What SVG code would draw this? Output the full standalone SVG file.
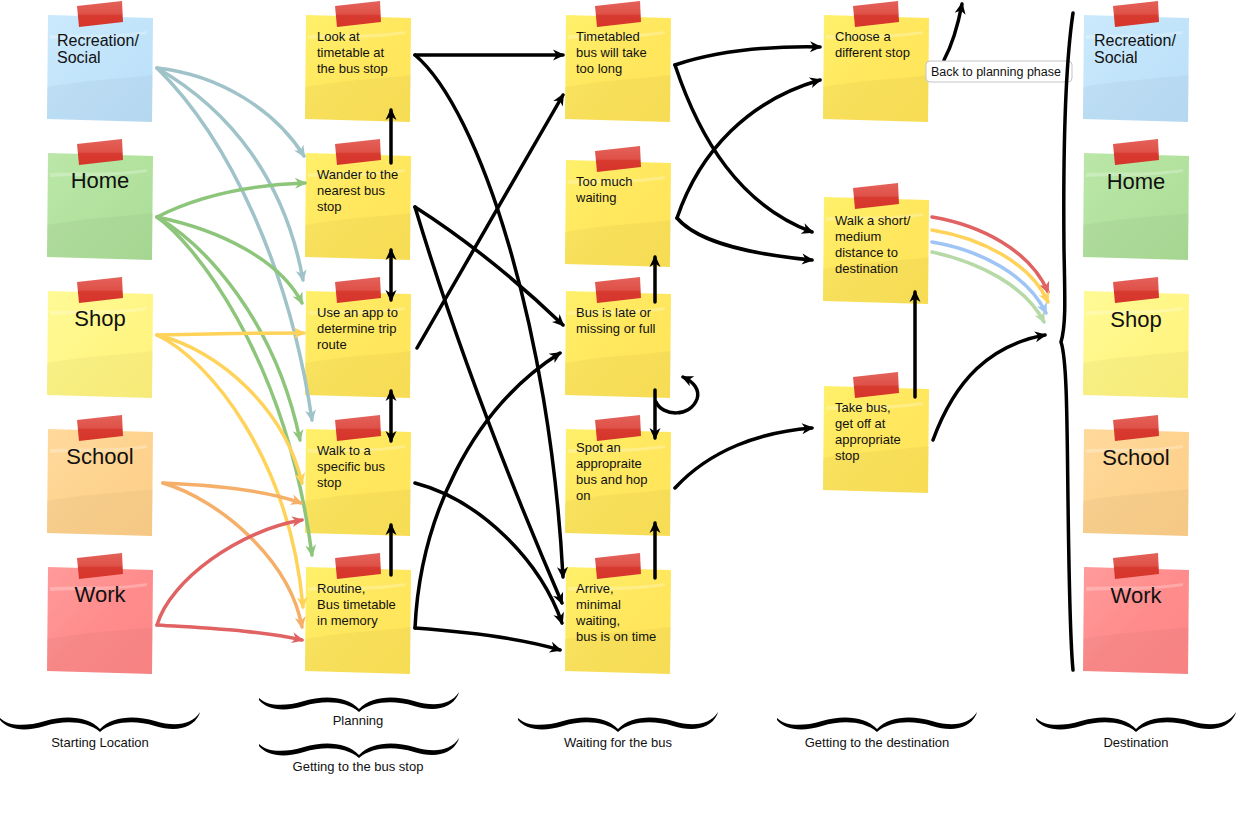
<svg xmlns="http://www.w3.org/2000/svg" width="1236" height="821" viewBox="0 0 1236 821">
<style>
.t{font-family:"Liberation Sans",Arial,sans-serif;font-size:13px;fill:#111}
.lb{font-family:"Liberation Sans",Arial,sans-serif;font-size:12.5px;fill:#111}
.big{font-family:"Liberation Sans",Arial,sans-serif;font-size:22px;fill:#111}
.mid{font-family:"Liberation Sans",Arial,sans-serif;font-size:16px;fill:#111}
.c{fill:none;stroke-width:3.5;stroke-linecap:round;stroke-linejoin:round}
.k{stroke:#000;marker-end:url(#ak)}
.kd{stroke:#000;marker-end:url(#akd);marker-start:url(#akd)}
.bl{stroke:#9fc3c9;marker-end:url(#abl)}
.gr{stroke:#8dc57b;marker-end:url(#agr)}
.ye{stroke:#ffd35a;marker-end:url(#aye)}
.or{stroke:#f6af68;marker-end:url(#aor)}
.re{stroke:#e06262;marker-end:url(#are)}
.re2{stroke:#e06262;marker-end:url(#are)}
.ye2{stroke:#ffd25a;marker-end:url(#aye)}
.bl2{stroke:#9fc5f5;marker-end:url(#abl2)}
.gr2{stroke:#b7d9a7;marker-end:url(#agr2)}
</style>
<defs>
<linearGradient id="gT" x1="0" y1="0" x2="0" y2="1">
<stop offset="0" stop-color="#e3625a"/><stop offset="0.5" stop-color="#df5148"/><stop offset="0.56" stop-color="#d83a2f"/><stop offset="1" stop-color="#d6342a"/>
</linearGradient>
<linearGradient id="gY" x1="0" y1="0" x2="1" y2="1"><stop offset="0" stop-color="#fff06a"/><stop offset="0.5" stop-color="#ffe75e"/><stop offset="1" stop-color="#ffe457"/></linearGradient>
<linearGradient id="gB" x1="0" y1="0" x2="1" y2="1"><stop offset="0" stop-color="#cbe9fc"/><stop offset="0.5" stop-color="#c1e4fa"/><stop offset="1" stop-color="#badff8"/></linearGradient>
<linearGradient id="gG" x1="0" y1="0" x2="1" y2="1"><stop offset="0" stop-color="#bbe7a8"/><stop offset="0.5" stop-color="#b2e29e"/><stop offset="1" stop-color="#abdd96"/></linearGradient>
<linearGradient id="gS" x1="0" y1="0" x2="1" y2="1"><stop offset="0" stop-color="#fffa96"/><stop offset="0.5" stop-color="#fff686"/><stop offset="1" stop-color="#fff27c"/></linearGradient>
<linearGradient id="gO" x1="0" y1="0" x2="1" y2="1"><stop offset="0" stop-color="#ffd99c"/><stop offset="0.5" stop-color="#fed38f"/><stop offset="1" stop-color="#fdcf89"/></linearGradient>
<linearGradient id="gR" x1="0" y1="0" x2="1" y2="1"><stop offset="0" stop-color="#ff9b9b"/><stop offset="0.5" stop-color="#ff8c8c"/><stop offset="1" stop-color="#ff8787"/></linearGradient>
<path id="note" d="M1,0 L106,3 L105,107 L0,104 Z"/>
<path id="shade" d="M0,72 C30,66 70,64 106,60 L105,107 L0,104 Z" fill="#000" opacity="0.03"/>
<path id="hl" d="M3,20 C30,18 60,22 100,16 L100,19 C60,25 30,22 3,24 Z" fill="#fff" opacity="0.25"/>
<polygon id="tape" points="30,-9 75,-14 76,7 32,12" fill="url(#gT)"/>
<path id="brace" d="M0,0 C8,8 25,9 45,3 C65,-3 88,-2 100,11 C112,-2 135,-3 155,3 C175,9 192,7 200,-6 L199,-3 C192,11 175,14 155,8 C135,2 113,3 100,14 C87,3 65,2 45,8 C25,14 8,12 0,2 Z" fill="#000"/>
<marker id="ak" viewBox="0 0 14 14" refX="11" refY="7" markerWidth="14" markerHeight="14" markerUnits="userSpaceOnUse" orient="auto"><path d="M1,1.5 L13,7 L1,12.5 L4.5,7 Z" fill="#000"/></marker>
<marker id="akd" viewBox="0 0 14 14" refX="11" refY="7" markerWidth="14" markerHeight="14" markerUnits="userSpaceOnUse" orient="auto-start-reverse"><path d="M1,1.5 L13,7 L1,12.5 L4.5,7 Z" fill="#000"/></marker>
<marker id="abl" viewBox="0 0 14 14" refX="11" refY="7" markerWidth="14" markerHeight="14" markerUnits="userSpaceOnUse" orient="auto"><path d="M1,1.5 L13,7 L1,12.5 L4.5,7 Z" fill="#9fc3c9"/></marker>
<marker id="agr" viewBox="0 0 14 14" refX="11" refY="7" markerWidth="14" markerHeight="14" markerUnits="userSpaceOnUse" orient="auto"><path d="M1,1.5 L13,7 L1,12.5 L4.5,7 Z" fill="#8dc57b"/></marker>
<marker id="aye" viewBox="0 0 14 14" refX="11" refY="7" markerWidth="14" markerHeight="14" markerUnits="userSpaceOnUse" orient="auto"><path d="M1,1.5 L13,7 L1,12.5 L4.5,7 Z" fill="#ffd35a"/></marker>
<marker id="aor" viewBox="0 0 14 14" refX="11" refY="7" markerWidth="14" markerHeight="14" markerUnits="userSpaceOnUse" orient="auto"><path d="M1,1.5 L13,7 L1,12.5 L4.5,7 Z" fill="#f6af68"/></marker>
<marker id="are" viewBox="0 0 14 14" refX="11" refY="7" markerWidth="14" markerHeight="14" markerUnits="userSpaceOnUse" orient="auto"><path d="M1,1.5 L13,7 L1,12.5 L4.5,7 Z" fill="#e06262"/></marker>
<marker id="abl2" viewBox="0 0 14 14" refX="11" refY="7" markerWidth="14" markerHeight="14" markerUnits="userSpaceOnUse" orient="auto"><path d="M1,1.5 L13,7 L1,12.5 L4.5,7 Z" fill="#9fc5f5"/></marker>
<marker id="agr2" viewBox="0 0 14 14" refX="11" refY="7" markerWidth="14" markerHeight="14" markerUnits="userSpaceOnUse" orient="auto"><path d="M1,1.5 L13,7 L1,12.5 L4.5,7 Z" fill="#b7d9a7"/></marker>
</defs>
<rect width="1236" height="821" fill="#fff"/>

<!-- Column 1: Starting locations -->
<g id="n-start-rec" transform="translate(47,15)"><use href="#note" fill="url(#gB)"/><use href="#shade"/><use href="#hl"/><use href="#tape"/><text class="mid" x="10" y="31">Recreation/</text><text class="mid" x="10" y="48">Social</text></g>
<g id="n-start-home" transform="translate(47,153)"><use href="#note" fill="url(#gG)"/><use href="#shade"/><use href="#hl"/><use href="#tape"/><text class="big" x="53" y="35" text-anchor="middle">Home</text></g>
<g id="n-start-shop" transform="translate(47,291)"><use href="#note" fill="url(#gS)"/><use href="#shade"/><use href="#hl"/><use href="#tape"/><text class="big" x="53" y="35" text-anchor="middle">Shop</text></g>
<g id="n-start-school" transform="translate(47,429)"><use href="#note" fill="url(#gO)"/><use href="#shade"/><use href="#hl"/><use href="#tape"/><text class="big" x="53" y="35" text-anchor="middle">School</text></g>
<g id="n-start-work" transform="translate(47,567)"><use href="#note" fill="url(#gR)"/><use href="#shade"/><use href="#hl"/><use href="#tape"/><text class="big" x="53" y="35" text-anchor="middle">Work</text></g>

<!-- Column 2 -->
<g id="n-look" transform="translate(305,15)"><use href="#note" fill="url(#gY)"/><use href="#shade"/><use href="#hl"/><use href="#tape"/><text class="t" x="12" y="26">Look at<tspan x="12" dy="16">timetable at</tspan><tspan x="12" dy="16">the bus stop</tspan></text></g>
<g id="n-wander" transform="translate(305,153)"><use href="#note" fill="url(#gY)"/><use href="#shade"/><use href="#hl"/><use href="#tape"/><text class="t" x="12" y="26">Wander to the<tspan x="12" dy="16">nearest bus</tspan><tspan x="12" dy="16">stop</tspan></text></g>
<g id="n-app" transform="translate(305,291)"><use href="#note" fill="url(#gY)"/><use href="#shade"/><use href="#hl"/><use href="#tape"/><text class="t" x="12" y="26">Use an app to<tspan x="12" dy="16">determine trip</tspan><tspan x="12" dy="16">route</tspan></text></g>
<g id="n-walkspecific" transform="translate(305,429)"><use href="#note" fill="url(#gY)"/><use href="#shade"/><use href="#hl"/><use href="#tape"/><text class="t" x="12" y="26">Walk to a<tspan x="12" dy="16">specific bus</tspan><tspan x="12" dy="16">stop</tspan></text></g>
<g id="n-routine" transform="translate(305,567)"><use href="#note" fill="url(#gY)"/><use href="#shade"/><use href="#hl"/><use href="#tape"/><text class="t" x="12" y="26">Routine,<tspan x="12" dy="16">Bus timetable</tspan><tspan x="12" dy="16">in memory</tspan></text></g>

<!-- Column 3 -->
<g id="n-toolong" transform="translate(565,15)"><use href="#note" fill="url(#gY)"/><use href="#shade"/><use href="#hl"/><use href="#tape"/><text class="t" x="11" y="26">Timetabled<tspan x="11" dy="16">bus will take</tspan><tspan x="11" dy="16">too long</tspan></text></g>
<g id="n-waiting" transform="translate(565,160)"><use href="#note" fill="url(#gY)"/><use href="#shade"/><use href="#hl"/><use href="#tape"/><text class="t" x="11" y="26">Too much<tspan x="11" dy="16">waiting</tspan></text></g>
<g id="n-late" transform="translate(565,291)"><use href="#note" fill="url(#gY)"/><use href="#shade"/><use href="#hl"/><use href="#tape"/><text class="t" x="11" y="26">Bus is late or<tspan x="11" dy="16">missing or full</tspan></text></g>
<g id="n-spot" transform="translate(565,429)"><use href="#note" fill="url(#gY)"/><use href="#shade"/><use href="#hl"/><use href="#tape"/><text class="t" x="11" y="23">Spot an<tspan x="11" dy="16">appropraite</tspan><tspan x="11" dy="16">bus and hop</tspan><tspan x="11" dy="15.5">on</tspan></text></g>
<g id="n-arrive" transform="translate(565,567)"><use href="#note" fill="url(#gY)"/><use href="#shade"/><use href="#hl"/><use href="#tape"/><text class="t" x="11" y="26">Arrive,<tspan x="11" dy="16">minimal</tspan><tspan x="11" dy="16">waiting,</tspan><tspan x="11" dy="15.5">bus is on time</tspan></text></g>

<!-- Column 4 -->
<g id="n-choose" transform="translate(823,15)"><use href="#note" fill="url(#gY)"/><use href="#shade"/><use href="#hl"/><use href="#tape"/><text class="t" x="12" y="26">Choose a<tspan x="12" dy="16">different stop</tspan></text></g>
<g id="n-walkshort" transform="translate(823,197)"><use href="#note" fill="url(#gY)"/><use href="#shade"/><use href="#hl"/><use href="#tape"/><text class="t" x="12" y="28">Walk a short/<tspan x="12" dy="16">medium</tspan><tspan x="12" dy="16">distance to</tspan><tspan x="12" dy="15.5">destination</tspan></text></g>
<g id="n-takebus" transform="translate(823,386)"><use href="#note" fill="url(#gY)"/><use href="#shade"/><use href="#hl"/><use href="#tape"/><text class="t" x="12" y="26">Take bus,<tspan x="12" dy="16">get off at</tspan><tspan x="12" dy="16">appropriate</tspan><tspan x="12" dy="15.5">stop</tspan></text></g>

<!-- Column 5: Destinations -->
<g id="n-dest-rec" transform="translate(1083,15)"><use href="#note" fill="url(#gB)"/><use href="#shade"/><use href="#hl"/><use href="#tape"/><text class="mid" x="11" y="31">Recreation/</text><text class="mid" x="11" y="48">Social</text></g>
<g id="n-dest-home" transform="translate(1083,153)"><use href="#note" fill="url(#gG)"/><use href="#shade"/><use href="#hl"/><use href="#tape"/><text class="big" x="53" y="36" text-anchor="middle">Home</text></g>
<g id="n-dest-shop" transform="translate(1083,291)"><use href="#note" fill="url(#gS)"/><use href="#shade"/><use href="#hl"/><use href="#tape"/><text class="big" x="53" y="36" text-anchor="middle">Shop</text></g>
<g id="n-dest-school" transform="translate(1083,429)"><use href="#note" fill="url(#gO)"/><use href="#shade"/><use href="#hl"/><use href="#tape"/><text class="big" x="53" y="36" text-anchor="middle">School</text></g>
<g id="n-dest-work" transform="translate(1083,567)"><use href="#note" fill="url(#gR)"/><use href="#shade"/><use href="#hl"/><use href="#tape"/><text class="big" x="53" y="36" text-anchor="middle">Work</text></g>

<!-- Connectors -->
<g id="connectors">
<!-- Recreation -->
<path class="c bl" d="M157,68 C220,75 275,110 304,156"/>
<path class="c bl" d="M157,68 C230,110 285,180 303,280"/>
<path class="c bl" d="M157,68 C230,140 290,270 312,420"/>
<!-- Home -->
<path class="c gr" d="M157,217 C200,195 250,185 305,183"/>
<path class="c gr" d="M157,217 C220,230 280,260 302,303"/>
<path class="c gr" d="M157,217 C205,245 275,320 300,440"/>
<path class="c gr" d="M157,217 C190,240 285,350 312,555"/>
<!-- Shop -->
<path class="c ye" d="M157,335 C200,334 250,333 304,333"/>
<path class="c ye" d="M157,335 C220,350 285,410 302,483"/>
<path class="c ye" d="M157,335 C210,360 290,460 303,607"/>
<!-- School -->
<path class="c or" d="M163,483 C210,485 265,490 301,503"/>
<path class="c or" d="M163,483 C220,500 290,560 302,627"/>
<!-- Work -->
<path class="c re" d="M157,625 C170,580 240,530 302,520"/>
<path class="c re" d="M157,625 C200,628 260,630 302,640"/>

<!-- Column 2 verticals -->
<path class="c k" d="M391,163 L391,110"/>
<path class="c kd" d="M391,250 L391,300"/>
<path class="c kd" d="M391,391 L391,441"/>
<path class="c k" d="M391,575 L391,525"/>

<!-- Column 2 to 3 -->
<path class="c k" d="M415,55 L563,55"/>
<path class="c k" d="M415,55 C480,110 550,330 563,577"/>
<path class="c k" d="M415,207 Q490,255 563,325"/>
<path class="c k" d="M415,207 Q470,390 562,603"/>
<path class="c k" d="M417,348 L563,95"/>
<path class="c k" d="M415,483 C480,500 540,560 562,623"/>
<path class="c k" d="M415,628 C470,632 520,638 560,650"/>
<path class="c k" d="M415,628 C420,520 470,410 560,353"/>

<!-- Column 3 verticals -->
<path class="c k" d="M655,302 L655,257"/>
<path class="c k" d="M655,390 L655,438"/>
<path class="c k" d="M656,402 C662,416 690,418 697,399 C700,390 694,382 683,377"/>
<path class="c k" d="M655,578 L655,523"/>

<!-- Column 3 to 4 -->
<path class="c k" d="M675,65 C720,50 770,46 820,47"/>
<path class="c k" d="M675,65 C700,140 740,205 812,232"/>
<path class="c k" d="M677,218 C700,150 750,100 820,80"/>
<path class="c k" d="M677,218 C700,245 760,255 812,260"/>
<path class="c k" d="M675,488 C710,450 760,432 812,428"/>

<!-- Column 4 -->
<path class="c k" d="M915,397 L915,292"/>
<path class="c k" d="M944,60 C952,45 958,25 962,4"/>
<path class="c k" d="M933,440 C955,380 990,345 1045,335"/>
<path class="c re2" d="M932,217 C980,225 1030,250 1048,292"/>
<path class="c ye2" d="M932,230 C980,238 1030,262 1048,302"/>
<path class="c bl2" d="M932,242 C980,250 1028,275 1046,313"/>
<path class="c gr2" d="M932,252 C978,262 1025,285 1044,322"/>
</g>

<!-- Label -->
<g id="lbl-back">
<rect x="926" y="61" width="146" height="21" rx="4" fill="#fff" stroke="#c4c4c4" stroke-width="1"/>
<text class="lb" x="931" y="76">Back to planning phase</text>
</g>

<!-- Right brace -->
<path id="brace-right" d="M1073,13 C1066,60 1063,150 1064,250 C1065,300 1066,325 1061,342 C1067,360 1067,420 1068,500 C1069,580 1070,640 1073,670" fill="none" stroke="#000" stroke-width="3.5" stroke-linecap="round"/>

<!-- Bottom braces and phase labels -->
<g id="phase-start"><use href="#brace" transform="translate(0,718)"/><text class="t" x="100" y="747" text-anchor="middle">Starting Location</text></g>
<g id="phase-planning"><use href="#brace" transform="translate(259,698)"/><text class="t" x="358" y="725" text-anchor="middle">Planning</text></g>
<g id="phase-busstop"><use href="#brace" transform="translate(259,744)"/><text class="t" x="358" y="771" text-anchor="middle">Getting to the bus stop</text></g>
<g id="phase-waiting"><use href="#brace" transform="translate(518,718)"/><text class="t" x="618" y="747" text-anchor="middle">Waiting for the bus</text></g>
<g id="phase-gettingdest"><use href="#brace" transform="translate(777,718)"/><text class="t" x="877" y="747" text-anchor="middle">Getting to the destination</text></g>
<g id="phase-destination"><use href="#brace" transform="translate(1036,718)"/><text class="t" x="1136" y="747" text-anchor="middle">Destination</text></g>
</svg>
